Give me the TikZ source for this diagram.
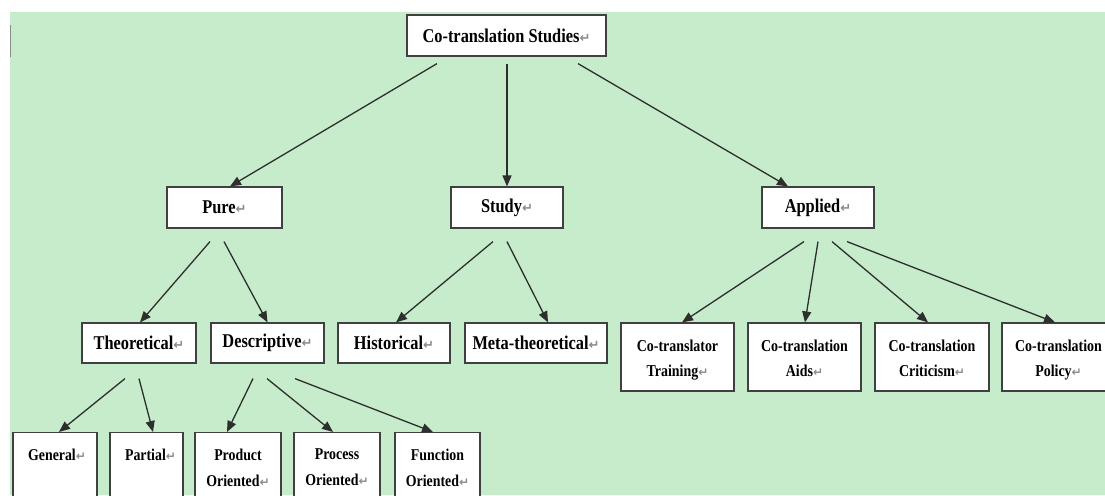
\documentclass[tikz,border=0pt]{standalone}
\usepackage{fontspec}
\setmainfont{Liberation Serif}[FakeStretch=0.84]
\newfontfamily\symfont{DejaVu Sans}
\usetikzlibrary{arrows.meta}
\definecolor{bg}{HTML}{C6ECCB}
\definecolor{edgecol}{HTML}{2E2E2E}
\definecolor{boxcol}{HTML}{404040}
\definecolor{retgray}{HTML}{8A8A8A}
\newcommand\ret[1]{{\symfont\fontsize{#1}{#1}\selectfont\color{retgray}↵}}
\newcommand\toppad{\rule{0pt}{17pt}}
\tikzset{
  box/.style={draw=boxcol, line width=1.2pt, fill=white, inner sep=0pt, rectangle},
  bigbox/.style={box, minimum height=41pt, font=\fontsize{19.5}{23}\selectfont\bfseries},
  midbox/.style={box, minimum height=40pt, font=\fontsize{19.5}{23}\selectfont\bfseries},
  twobox/.style={box, minimum height=68pt, align=center, font=\fontsize{16.6}{25}\selectfont\bfseries},
  lowbox/.style={box, minimum height=90pt, anchor=north},
  lowtext/.style={inner sep=0pt, anchor=north, align=center, font=\fontsize{16.5}{26}\selectfont\bfseries},
  arr/.style={draw=edgecol, line width=1.3pt, -{Triangle[length=11pt,width=9pt]}}
}
\begin{document}
\begin{tikzpicture}[x=1pt,y=-1pt]
\useasboundingbox (0,0) rectangle (1105,495);
\clip (0,0) rectangle (1105,495);
\fill[bg] (10,12) rectangle (1105,495);
\draw[retgray, line width=1.2pt] (10.6,25) -- (10.6,57);

% level 1
\node[bigbox, minimum width=199pt] (top) at (506.5,35.5) {Co-translation Studies\ret{13}};
% level 2
\node[bigbox, minimum width=115pt] (pure) at (224.5,207.5) {Pure\ret{13}};
\node[bigbox, minimum width=112pt] (study) at (507,207.5) {Study\ret{13}};
\node[bigbox, minimum width=112pt] (applied) at (818,207.5) {Applied\ret{13}};
% level 3
\node[midbox, minimum width=114pt] (theo) at (139,343) {Theoretical\ret{13}};
\node[midbox, minimum width=113pt] (desc) at (267.5,343) {Descriptive\ret{13}};
\node[midbox, minimum width=112pt] (hist) at (394,343) {Historical\ret{13}};
\node[midbox, minimum width=142pt] (meta) at (536,343) {Meta-theoretical\ret{13}};
\node[twobox, minimum width=113pt] (train) at (677.5,357) {\toppad Co-translator\\Training\ret{12}\vphantom{g}};
\node[twobox, minimum width=113pt] (aids) at (804.5,357) {\toppad Co-translation\\Aids\ret{12}\vphantom{g}};
\node[twobox, minimum width=114pt] (crit) at (932,357) {\toppad Co-translation\\Criticism\ret{12}\vphantom{g}};
\node[twobox, minimum width=113pt] (policy) at (1058.5,357) {\toppad Co-translation\\Policy\ret{12}\vphantom{g}};
% level 4
\node[lowbox, minimum width=84pt] (gen) at (55,432) {};
\node[lowbox, minimum width=73pt] (part) at (146.5,432) {};
\node[lowbox, minimum width=86pt] (prod) at (238,432) {};
\node[lowbox, minimum width=86pt] (proc) at (337,432) {};
\node[lowbox, minimum width=85pt] (func) at (437.5,432) {};
\node[lowtext] (genT) at ([xshift=2pt,yshift=-16.5pt]gen.north) {General\ret{12}};
\node[lowtext] (partT) at ([xshift=4pt,yshift=-16.5pt]part.north) {Partial\ret{12}};
\node[lowtext] (prodT) at ([yshift=-16.5pt]prod.north) {Product\\Oriented\ret{12}};
\node[lowtext] (procT) at ([yshift=-16.5pt]proc.north) {Process\\Oriented\ret{12}};
\node[lowtext] (funcT) at ([yshift=-16.5pt]func.north) {Function\\Oriented\ret{12}};

% connectors
\draw[arr] ([xshift=-69.5pt,yshift=-7pt]top.south) -- ([xshift=5.5pt]pure.north);
\draw[arr] ([xshift=0.5pt,yshift=-7pt]top.south) -- ([xshift=0pt]study.north);
\draw[arr] ([xshift=71.5pt,yshift=-7pt]top.south) -- ([xshift=-30pt]applied.north);

\draw[arr] ([xshift=-14.5pt,yshift=-13pt]pure.south) -- ([xshift=1pt]theo.north);
\draw[arr] ([xshift=-0.5pt,yshift=-13pt]pure.south) -- ([xshift=0pt]desc.north);

\draw[arr] ([xshift=-14pt,yshift=-13pt]study.south) -- ([xshift=2pt]hist.north);
\draw[arr] ([xshift=0pt,yshift=-13pt]study.south) -- ([xshift=12pt]meta.north);

\draw[arr] ([xshift=-14pt,yshift=-13pt]applied.south) -- ([xshift=4.5pt]train.north);
\draw[arr] ([xshift=0pt,yshift=-13pt]applied.south) -- ([xshift=0.5pt]aids.north);
\draw[arr] ([xshift=14pt,yshift=-13pt]applied.south) -- ([xshift=-4pt]crit.north);
\draw[arr] ([xshift=29pt,yshift=-13pt]applied.south) -- ([xshift=-3.5pt]policy.north);

\draw[arr] ([xshift=-14pt,yshift=-15pt]theo.south) -- ([xshift=4pt]gen.north);
\draw[arr] ([xshift=0pt,yshift=-15pt]theo.south) -- ([xshift=6.5pt]part.north);

\draw[arr] ([xshift=-14.5pt,yshift=-15pt]desc.south) -- ([xshift=-11pt]prod.north);
\draw[arr] ([xshift=-0.5pt,yshift=-15pt]desc.south) -- ([xshift=-4pt]proc.north);
\draw[arr] ([xshift=27.5pt,yshift=-15pt]desc.south) -- ([xshift=-4.5pt]func.north);
\end{tikzpicture}
\end{document}
